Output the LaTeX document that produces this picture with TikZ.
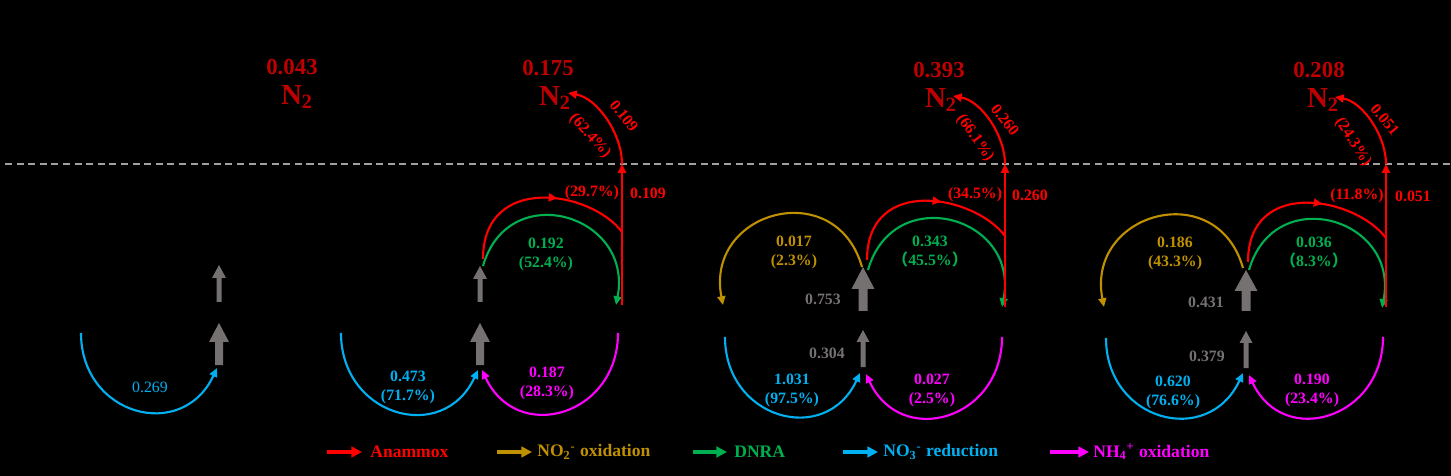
\documentclass[tikz,border=0pt]{standalone}
\usepackage{fontspec}
\setmainfont{Liberation Serif}
\newfontfamily\cjk{Noto Sans CJK SC}
\usepackage{tikz}
\usetikzlibrary{arrows.meta, decorations.markings}

\definecolor{anared}{RGB}{255,0,0}
\definecolor{ntwored}{RGB}{192,0,0}
\definecolor{oxgold}{RGB}{191,144,0}
\definecolor{dnragreen}{RGB}{0,176,80}
\definecolor{redblue}{RGB}{0,176,240}
\definecolor{nhmag}{RGB}{255,0,255}
\definecolor{arrgray}{RGB}{118,113,113}
\definecolor{linegray}{RGB}{160,160,160}

\tikzset{
  lbl/.style={font=\bfseries\fontsize{9}{10.8}\selectfont, inner sep=0pt, align=center},
  tot/.style={font=\bfseries\fontsize{13}{13}\selectfont, inner sep=0pt, text=ntwored},
  ntwo/.style={font=\bfseries\fontsize{16.5}{16.5}\selectfont, inner sep=0pt, text=ntwored},
  leg/.style={font=\bfseries\fontsize{10}{10}\selectfont, inner sep=0pt, anchor=west},
  midarrow/.style={postaction={decorate},
    decoration={markings, mark=at position #1 with {\arrow{Triangle[length=5pt,width=4.5pt]}}}},
  pics/upblock/.style n args={4}{code={
    \fill[arrgray] (-#2/2,0) -- (-#2/2,#1-#4) -- (-#3/2,#1-#4) -- (0,#1)
      -- (#3/2,#1-#4) -- (#2/2,#1-#4) -- (#2/2,0) -- cycle;}}
}

\begin{document}
\begin{tikzpicture}[x=0.02cm, y=0.02cm]
\fill[black] (0,0) rectangle (1451,-476);
\useasboundingbox (0,0) rectangle (1451,-476);

% end points of the fluxes
\coordinate (dl) at (5,-164);      \coordinate (dr) at (1451,-164);
\coordinate (bs1) at (81,-333);    \coordinate (bt1) at (217,-368);
\coordinate (bs2) at (341,-333);   \coordinate (bt2) at (478,-370);
\coordinate (ms2) at (618,-333);   \coordinate (mt2) at (482,-370);
\coordinate (gs2) at (483,-266);   \coordinate (gt2) at (616,-305);
\coordinate (rs2) at (483,-259);   \coordinate (rj2) at (622,-232);
\coordinate (rb2) at (622,-305);   \coordinate (rm2) at (622,-164);
\coordinate (nt2) at (568,-93);
\coordinate (os3) at (862,-267);   \coordinate (ot3) at (723,-305);
\coordinate (bs3) at (725,-337);   \coordinate (bt3) at (860,-373);
\coordinate (ms3) at (1002,-337);  \coordinate (mt3) at (866,-374);
\coordinate (gs3) at (868,-270);   \coordinate (gt3) at (1002,-307);
\coordinate (rs3) at (867,-260);   \coordinate (rj3) at (1005,-236);
\coordinate (rb3) at (1005,-307);  \coordinate (rm3) at (1005,-164);
\coordinate (nt3) at (953,-96);
\coordinate (os4) at (1243,-268);  \coordinate (ot4) at (1104,-307);
\coordinate (bs4) at (1106,-338);  \coordinate (bt4) at (1243,-373);
\coordinate (ms4) at (1383,-337);  \coordinate (mt4) at (1249,-375);
\coordinate (gs4) at (1249,-270);  \coordinate (gt4) at (1382,-308);
\coordinate (rs4) at (1248,-262);  \coordinate (rj4) at (1386,-238);
\coordinate (rb4) at (1386,-307);  \coordinate (rm4) at (1386,-164);
\coordinate (nt4) at (1335,-97);

\draw[linegray, line width=0.8pt, dash pattern=on 4pt off 2.6pt] (dl) -- (dr);

% gray flux arrows
\pic (sa1) at (219,-302) {upblock={37}{5}{14}{13}};
\pic (ba1) at (219,-365) {upblock={42}{8}{20}{19}};
\pic (sa2) at (480,-302) {upblock={36}{5}{14}{13}};
\pic (ba2) at (480,-365) {upblock={42}{8}{20}{19}};
\pic (ba3) at (863,-311) {upblock={44}{9}{23}{22}};
\pic (sa3) at (863,-367) {upblock={37}{5}{13}{12}};
\pic (ba4) at (1246,-311) {upblock={41}{9}{23}{21}};
\pic (sa4) at (1246,-368) {upblock={37}{5}{13}{12}};

% N2 totals
\node[tot] (tot1) at (292,-67) {0.043};
\node[ntwo] (ntwo1) at (297,-97) {N\textsubscript{2}};
\node[tot] (tot2) at (548,-68) {0.175};
\node[ntwo] (ntwo2) at (555,-98) {N\textsubscript{2}};
\node[tot] (tot3) at (939,-70) {0.393};
\node[ntwo] (ntwo3) at (941,-100) {N\textsubscript{2}};
\node[tot] (tot4) at (1319,-70) {0.208};
\node[ntwo] (ntwo4) at (1323,-100) {N\textsubscript{2}};

\begin{scope}[every node/.style={lbl}]
  \node[text=redblue, font=\fontsize{9}{10.8}\selectfont] (b1) at (150,-387) {0.269};
  \node[text=redblue] (b2) at (408,-387) {0.473\\(71.7\%)};
  \node[text=nhmag] (m2) at (547,-383) {0.187\\(28.3\%)};
  \node[text=dnragreen] (g2) at (546,-254) {0.192\\(52.4\%)};
  \node[text=anared] (r2) at (592,-193) {(29.7\%)};
  \node[text=anared] (v2) at (648,-193) {0.109};
  \node[text=anared, rotate=-52] (e2) at (624,-116) {0.109};
  \node[text=anared, rotate=-48] (p2) at (590,-136) {(62.4\%)};

  \node[text=arrgray] (ga3) at (823,-299) {0.753};
  \node[text=arrgray] (gb3) at (827,-353) {0.304};
  \node[text=oxgold] (o3) at (794,-252) {0.017\\(2.3\%)};
  \node[text=redblue] (b3) at (792,-390) {1.031\\(97.5\%)};
  \node[text=nhmag] (m3) at (932,-390) {0.027\\(2.5\%)};
  \node[text=dnragreen] (g3) at (930,-252) {0.343\\{\cjk （}45.5\%{\cjk ）}};
  \node[text=anared] (r3) at (975,-195) {(34.5\%)};
  \node[text=anared] (v3) at (1030,-195) {0.260};
  \node[text=anared, rotate=-52] (e3) at (1005,-120) {0.260};
  \node[text=anared, rotate=-55] (p3) at (975,-138) {(66.1\%)};

  \node[text=arrgray] (ga4) at (1206,-302) {0.431};
  \node[text=arrgray] (gb4) at (1207,-356) {0.379};
  \node[text=oxgold] (o4) at (1175,-253) {0.186\\(43.3\%)};
  \node[text=redblue] (b4) at (1173,-392) {0.620\\(76.6\%)};
  \node[text=nhmag] (m4) at (1312,-390) {0.190\\(23.4\%)};
  \node[text=dnragreen] (g4) at (1314,-253) {0.036\\{\cjk （}8.3\%{\cjk ）}};
  \node[text=anared] (r4) at (1357,-196) {(11.8\%)};
  \node[text=anared] (v4) at (1413,-196) {0.051};
  \node[text=anared, rotate=-50] (e4) at (1385,-120) {0.051};
  \node[text=anared, rotate=-57] (p4) at (1353,-142) {(24.3\%)};
\end{scope}

\begin{scope}[>={Triangle[length=5pt,width=4.5pt]},
              every edge/.style={draw, line width=1.2pt}]
    \path[->] (bs1) edge[redblue, out=-90, in=-115, looseness=1.5] (bt1);

    \path[->] (bs2) edge[redblue, out=-90, in=-115, looseness=1.5] (bt2);
    \path[->] (ms2) edge[nhmag, out=-90, in=-65, looseness=1.5] (mt2);
    \path[->] (gs2) edge[dnragreen, out=74, in=79, looseness=1.7] (gt2);
    \path (rs2) edge[anared, midarrow=.6, out=90, in=127, out looseness=1.55, in looseness=.95] (rj2);
    \path[->] (rb2) edge[anared] (rm2);
    \path[->] (rm2) edge[anared, out=90, in=-10, looseness=.86] (nt2);

    \path[->] (os3) edge[oxgold, out=106, in=101, looseness=1.7] (ot3);
    \path[->] (bs3) edge[redblue, out=-90, in=-115, looseness=1.5] (bt3);
    \path[->] (ms3) edge[nhmag, out=-90, in=-65, looseness=1.5] (mt3);
    \path[->] (gs3) edge[dnragreen, out=74, in=79, looseness=1.7] (gt3);
    \path (rs3) edge[anared, midarrow=.6, out=90, in=127, out looseness=1.55, in looseness=.95] (rj3);
    \path[->] (rb3) edge[anared] (rm3);
    \path[->] (rm3) edge[anared, out=90, in=-10, looseness=.86] (nt3);

    \path[->] (os4) edge[oxgold, out=106, in=101, looseness=1.7] (ot4);
    \path[->] (bs4) edge[redblue, out=-90, in=-115, looseness=1.5] (bt4);
    \path[->] (ms4) edge[nhmag, out=-90, in=-65, looseness=1.5] (mt4);
    \path[->] (gs4) edge[dnragreen, out=74, in=79, looseness=1.7] (gt4);
    \path (rs4) edge[anared, midarrow=.6, out=90, in=127, out looseness=1.55, in looseness=.95] (rj4);
    \path[->] (rb4) edge[anared] (rm4);
    \path[->] (rm4) edge[anared, out=90, in=-10, looseness=.86] (nt4);
\end{scope}

% legend
\coordinate (la1) at (327,-452);  \coordinate (la2) at (362,-452);
\coordinate (lo1) at (497,-452);  \coordinate (lo2) at (532,-452);
\coordinate (ld1) at (693,-452);  \coordinate (ld2) at (727,-452);
\coordinate (ln1) at (843,-452);  \coordinate (ln2) at (878,-452);
\coordinate (lh1) at (1050,-452); \coordinate (lh2) at (1089,-452);
\node[leg, text=anared] (leg1) at (370,-452) {Anammox};
\node[leg, text=oxgold] (leg2) at (537,-452) {NO\textsubscript{2}\textsuperscript{-} oxidation};
\node[leg, text=dnragreen] (leg3) at (734,-452) {DNRA};
\node[leg, text=redblue] (leg4) at (883,-452) {NO\textsubscript{3}\textsuperscript{-} reduction};
\node[leg, text=nhmag] (leg5) at (1093,-452) {NH\textsubscript{4}\textsuperscript{+} oxidation};
\begin{scope}[>={Triangle[length=6pt,width=6pt]},
              every edge/.style={draw, line width=2pt}]
    \path[->] (la1) edge[anared] (la2);
    \path[->] (lo1) edge[oxgold] (lo2);
    \path[->] (ld1) edge[dnragreen] (ld2);
    \path[->] (ln1) edge[redblue] (ln2);
    \path[->] (lh1) edge[nhmag] (lh2);
\end{scope}

\end{tikzpicture}
\end{document}
